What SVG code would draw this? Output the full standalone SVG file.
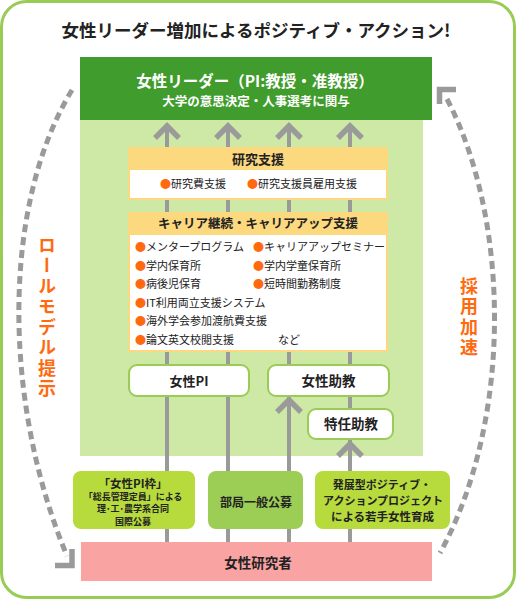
<svg xmlns="http://www.w3.org/2000/svg" width="516" height="600" viewBox="0 0 516 600">
<style>
text{font-family:"Noto Sans CJK JP","Noto Sans",sans-serif;font-weight:bold;fill:#222}
.c{text-anchor:middle}
.w{fill:#fff}
.o{fill:#ff6a10}
.v{writing-mode:vertical-rl;font-size:18px;letter-spacing:2.5px;fill:#ff6a10}
.line{stroke:#9a9a9a;stroke-width:4;fill:none}
.chev{stroke:#9a9a9a;stroke-width:5.5;fill:none;stroke-linejoin:miter}
.dash{stroke:#9a9a9a;stroke-width:5;fill:none;stroke-dasharray:8 5}
.card{fill:#fff;stroke:#99cc55;stroke-width:2}
.hdr{fill:#fcd87e}
.body{fill:#fff;stroke:#fcd87e;stroke-width:2}
.item{font-size:11px;font-weight:normal}
</style>
<defs>
<polyline id="chevron" class="chev" points="-12,12 0,0 12,12"/>
</defs>
<rect x="1.5" y="1.5" width="513" height="596" rx="25" fill="#fff" stroke="#99cc55" stroke-width="3"/>
<text class="c" x="256" y="37" font-size="17.5">女性リーダー増加によるポジティブ・アクション!</text>
<rect x="80" y="120" width="343" height="336" fill="#cde9a5"/>

<g id="connectors">
<line class="line" x1="167" y1="128" x2="167" y2="542"/>
<line class="line" x1="228" y1="128" x2="228" y2="542"/>
<line class="line" x1="289" y1="128" x2="289" y2="542"/>
<line class="line" x1="350" y1="128" x2="350" y2="542"/>
<use href="#chevron" x="167" y="126"/>
<use href="#chevron" x="228" y="126"/>
<use href="#chevron" x="289" y="126"/>
<use href="#chevron" x="350" y="126"/>
<use href="#chevron" x="289" y="400"/>
<use href="#chevron" x="350" y="444"/>
<path class="dash" d="M72,90 C2,205 2,400 67,556"/>
<polyline class="chev" points="55,565.5 72,565.5 72,549"/>
<path class="dash" d="M447,99 C510,220 513,420 440,553"/>
<polyline class="chev" points="456,89.5 439.5,89.5 439.5,104"/>
</g>

<g id="leader">
<rect x="80" y="57" width="352" height="63" fill="#409c2c"/>
<text class="c w" x="255" y="87" font-size="15.5">女性リーダー（PI:教授・准教授）</text>
<text class="c w" x="256" y="106" font-size="12.5">大学の意思決定・人事選考に関与</text>
</g>

<g id="research">
<rect class="hdr" x="128" y="147" width="260" height="22"/>
<rect class="body" x="129" y="169" width="258" height="30"/>
<text class="c" x="258" y="163.5" font-size="13">研究支援</text>
<text class="item" x="160" y="188"><tspan class="o">●</tspan>研究費支援</text>
<text class="item" x="247" y="188"><tspan class="o">●</tspan>研究支援員雇用支援</text>
</g>

<g id="career">
<rect class="hdr" x="128" y="212" width="260" height="22"/>
<rect class="body" x="129" y="234" width="258" height="117"/>
<text class="c" x="258" y="227.5" font-size="12.5">キャリア継続・キャリアアップ支援</text>
<text class="item" x="135" y="251"><tspan class="o">●</tspan>メンタープログラム</text>
<text class="item" x="253" y="251"><tspan class="o">●</tspan>キャリアアップセミナー</text>
<text class="item" x="135" y="269.5"><tspan class="o">●</tspan>学内保育所</text>
<text class="item" x="253" y="269.5"><tspan class="o">●</tspan>学内学童保育所</text>
<text class="item" x="135" y="288"><tspan class="o">●</tspan>病後児保育</text>
<text class="item" x="253" y="288"><tspan class="o">●</tspan>短時間勤務制度</text>
<text class="item" x="135" y="306.5"><tspan class="o">●</tspan>IT利用両立支援システム</text>
<text class="item" x="135" y="325"><tspan class="o">●</tspan>海外学会参加渡航費支援</text>
<text class="item" x="135" y="343.5"><tspan class="o">●</tspan>論文英文校閲支援</text>
<text class="item" x="278" y="343.5">など</text>
</g>

<g id="female-pi">
<rect class="card" x="129" y="365" width="120" height="31" rx="8"/>
<text class="c" x="189" y="386" font-size="13">女性PI</text>
</g>
<g id="female-assistant">
<rect class="card" x="268" y="365" width="121" height="31" rx="8"/>
<text class="c" x="328.5" y="386" font-size="13.5">女性助教</text>
</g>
<g id="special-assistant">
<rect class="card" x="308" y="409" width="85" height="30" rx="8"/>
<text class="c" x="351" y="429" font-size="13.5">特任助教</text>
</g>

<g id="pi-quota">
<rect x="73" y="471" width="122" height="58" rx="8" fill="#b7da3c"/>
<text class="c" x="133" y="487.5" font-size="11.5">「女性PI枠」</text>
<text class="c" x="133" y="500" font-size="9">「総長管理定員」による</text>
<text class="c" x="133" y="512" font-size="9">理･工･農学系合同</text>
<text class="c" x="133" y="524.5" font-size="9">国際公募</text>
</g>
<g id="dept-open">
<rect x="208" y="471" width="95" height="58" rx="8" fill="#9ccd55"/>
<text class="c" x="256" y="507" font-size="12">部局一般公募</text>
</g>
<g id="positive-project">
<rect x="315" y="471" width="135" height="58" rx="8" fill="#b7da3c"/>
<text class="c" x="382" y="489" font-size="11">発展型ポジティブ・</text>
<text class="c" x="383" y="505" font-size="11">アクションプロジェクト</text>
<text class="c" x="382.5" y="520.5" font-size="11.5">による若手女性育成</text>
</g>

<g id="female-researchers">
<rect x="81" y="542" width="351" height="39" fill="#f9a3a3"/>
<text class="c" x="258" y="568" font-size="13.5">女性研究者</text>
</g>

<g id="role-model-label">
<text class="v" x="47" y="236">ロールモデル提示</text>
</g>
<g id="accelerate-label">
<text class="v" x="469" y="277">採用加速</text>
</g>
</svg>
